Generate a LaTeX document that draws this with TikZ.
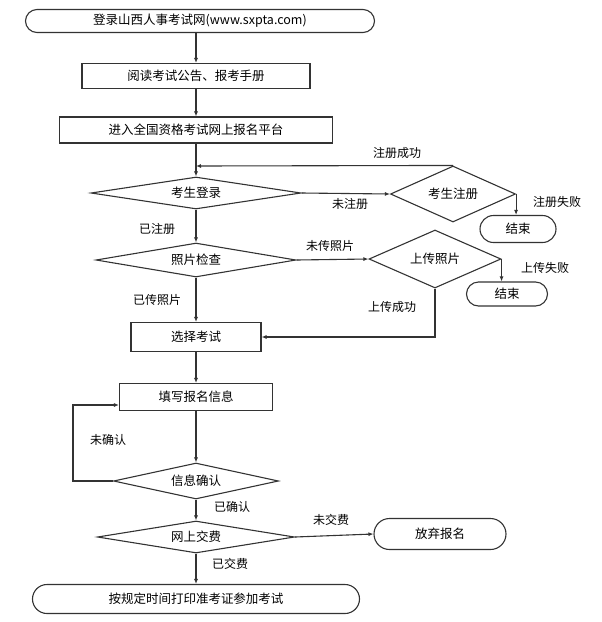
\documentclass[tikz,border=0pt]{standalone}
\usepackage{fontspec}
\setmainfont{Noto Sans CJK SC}
\usetikzlibrary{shapes.geometric,shapes.misc,arrows.meta}
\begin{document}
\begin{tikzpicture}[x=1pt,y=-1pt,font=\fontsize{12.5}{14}\selectfont,
  line width=1.1pt, draw=black!80,
  pbox/.style={draw, rectangle, inner sep=0pt},
  rbox/.style={draw, rounded rectangle, inner sep=0pt},
  dbox/.style={draw, diamond, aspect=6, inner sep=0pt},
  arr/.style={-{Latex[length=5pt,width=4pt]}, draw=black!80},
  lbl/.style={font=\fontsize{12}{14}\selectfont}]
\useasboundingbox (0,0) rectangle (602,622);
\node[rbox, minimum width=349pt, minimum height=23pt] (s) at (200,21) {登录山西人事考试网(www.sxpta.com)};
\node[pbox, minimum width=228pt, minimum height=25pt] (b1) at (196,76) {阅读考试公告、报考手册};
\node[pbox, minimum width=273pt, minimum height=26pt] (b2) at (196,130) {进入全国资格考试网上报名平台};
\node[dbox, minimum width=210pt, minimum height=32pt] (d1) at (196,193) {考生登录};
\node[diamond, draw, inner sep=0pt, minimum width=125pt, minimum height=56pt, aspect=2.2] (d2) at (453,194) {考生注册};
\node[rbox, minimum width=76pt, minimum height=27pt] (e1) at (518,229) {结束};
\node[dbox, minimum width=200pt, minimum height=34pt] (d3) at (196,260) {照片检查};
\node[diamond, draw, inner sep=0pt, minimum width=132pt, minimum height=58pt, aspect=2.2] (d4) at (435,259) {上传照片};
\node[rbox, minimum width=81pt, minimum height=24pt] (e2) at (507,294) {结束};
\node[pbox, minimum width=130pt, minimum height=29pt] (b3) at (196,337) {选择考试};
\node[pbox, minimum width=153pt, minimum height=27pt] (b4) at (196,397) {填写报名信息};
\node[dbox, minimum width=165pt, minimum height=36pt] (d5) at (196,481) {信息确认};
\node[dbox, minimum width=197pt, minimum height=32pt] (d6) at (196,537) {网上交费};
\node[rbox, minimum width=132pt, minimum height=31pt] (q) at (440,534) {放弃报名};
\node[rbox, minimum width=327pt, minimum height=29pt] (f) at (196,599) {按规定时间打印准考证参加考试};
\coordinate (j1) at (196,166);
\draw[arr] (s.south -| b1) -- (b1);
\draw[arr] (b1) -- (b2);
\draw[arr] (b2) -- (d1);
\draw[arr] (d2.north) -- (j1);
\node[lbl] (l1) at (397,153) {注册成功};
\draw[arr] (d1.east) -- (d2.west);
\node[lbl] (l2) at (350,204) {未注册};
\draw[arr] (d2.east) -- (e1.north -| d2.east);
\node[lbl] (l3) at (557,202) {注册失败};
\draw[arr] (d1) -- (d3);
\node[lbl] (l4) at (157,229) {已注册};
\draw[arr] (d3.east) -- (d4.west);
\node[lbl] (l5) at (330,246) {未传照片};
\draw[arr] (d4.east) -- (e2.north -| d4.east);
\node[lbl] (l6) at (545,268) {上传失败};
\draw[arr] (d4.south) -- (d4.south |- b3.east) -- (b3.east);
\node[lbl] (l7) at (392,307) {上传成功};
\draw[arr] (d3) -- (b3);
\node[lbl] (l8) at (157,300) {已传照片};
\draw[arr] (b3) -- (b4);
\draw[arr] (b4) -- (d5);
\draw[arr] (d5.west) -- (73,481) -- (73,405) -- (b4.west |- 0,405);
\node[lbl] (l9) at (108,440) {未确认};
\draw[arr] (d5) -- (d6);
\node[lbl] (l10) at (232,507) {已确认};
\draw[arr] (d6.east) -- (q.west);
\node[lbl] (l11) at (331,520) {未交费};
\draw[arr] (d6) -- (f);
\node[lbl] (l12) at (230,564) {已交费};
\end{tikzpicture}
\end{document}
